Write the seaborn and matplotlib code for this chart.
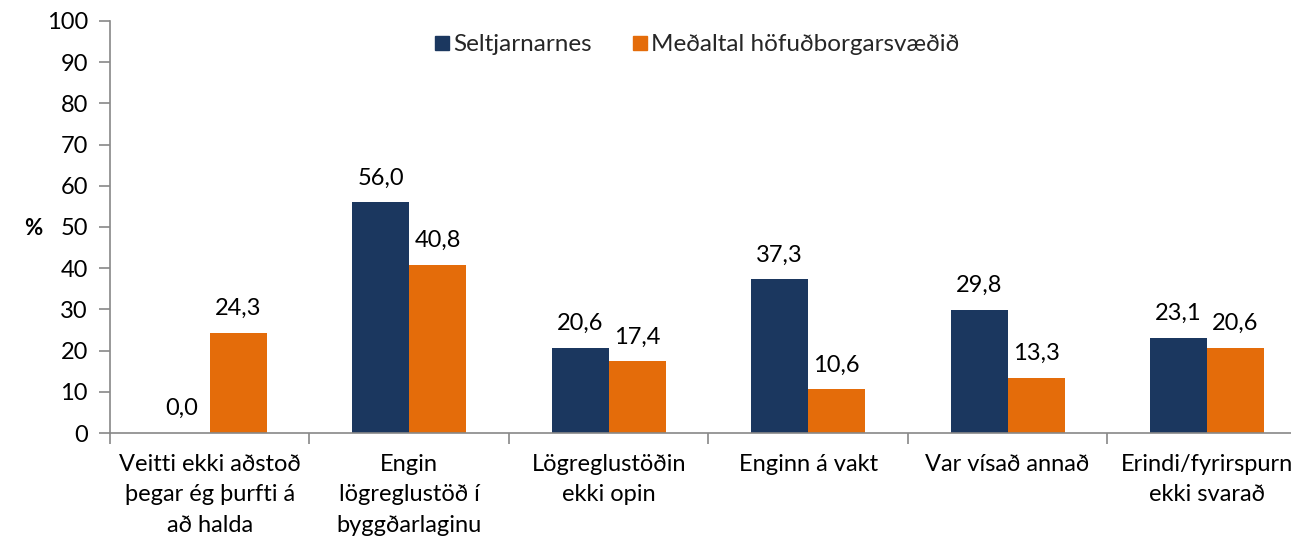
import matplotlib
matplotlib.use("Agg")
import matplotlib.pyplot as plt
import seaborn as sns
import pandas as pd
from matplotlib.ticker import FixedLocator
from matplotlib.lines import Line2D

categories = [
    "Veitti ekki aðstoð\nþegar ég þurfti á\nað halda",
    "Engin\nlögreglustöð í\nbyggðarlaginu",
    "Lögreglustöðin\nekki opin",
    "Enginn á vakt",
    "Var vísað annað",
    "Erindi/fyrirspurn\nekki svarað",
]
series_names = ["Seltjarnarnes", "Meðaltal höfuðborgarsvæðið"]
seltjarnarnes = [0.0, 56.0, 20.6, 37.3, 29.8, 23.1]
medaltal = [24.3, 40.8, 17.4, 10.6, 13.3, 20.6]
y_ticks = list(range(0, 101, 10))

colors = ["#1B375F", "#E46C0A"]

df = pd.DataFrame({
    "cat": categories * 2,
    "series": [series_names[0]] * 6 + [series_names[1]] * 6,
    "value": seltjarnarnes + medaltal,
})

sns.set_theme(style="white")
plt.rcParams["font.family"] = ["Lato", "DejaVu Sans"]

fig = plt.figure(figsize=(12.91, 5.42), dpi=100)
ax = fig.add_axes([0.0852, 0.2011, 0.927, 0.7602])

sns.barplot(data=df, x="cat", y="value", hue="series", palette=colors,
            width=0.572, saturation=1, ax=ax, legend=False, errorbar=None,
            linewidth=0)

for cont in ax.containers:
    labels = [f"{v:.1f}".replace(".", ",") for v in cont.datavalues]
    ax.bar_label(cont, labels=labels, padding=10, fontsize=17, color="#000000")

ax.set_ylim(0, 100)
ax.set_xlim(-0.5, 5.5)
ax.yaxis.set_major_locator(FixedLocator(y_ticks))
ax.tick_params(axis="y", left=True, length=8, width=1.2, color="#888888",
               labelsize=17, pad=8, labelcolor="#000000")
ax.tick_params(axis="x", which="major", length=0, labelsize=17, pad=15,
               labelcolor="#000000")
for lbl in ax.get_xticklabels():
    lbl.set_linespacing(1.55)
ax.xaxis.set_minor_locator(FixedLocator([i - 0.5 for i in range(7)]))
ax.tick_params(axis="x", which="minor", bottom=True, length=8, width=1.2,
               color="#888888")
ax.set_xlabel("")
ax.set_ylabel("%", rotation=0, fontsize=16, fontweight="bold",
              color="#000000", va="center", ha="center")
ax.yaxis.set_label_coords(-0.064, 0.497)

for s in ["top", "right"]:
    ax.spines[s].set_visible(False)
for s in ["left", "bottom"]:
    ax.spines[s].set_color("#888888")
    ax.spines[s].set_linewidth(1.2)

handles = [Line2D([0], [0], marker="s", linestyle="", markersize=10,
                  markerfacecolor=c, markeredgecolor=c) for c in colors]
fig.legend(handles, series_names, loc="center", bbox_to_anchor=(0.539, 0.917),
           ncol=2, frameon=False, fontsize=17.5, handletextpad=0.05,
           columnspacing=1.6, handlelength=0.8)

fig.savefig("out.png", dpi=100)
